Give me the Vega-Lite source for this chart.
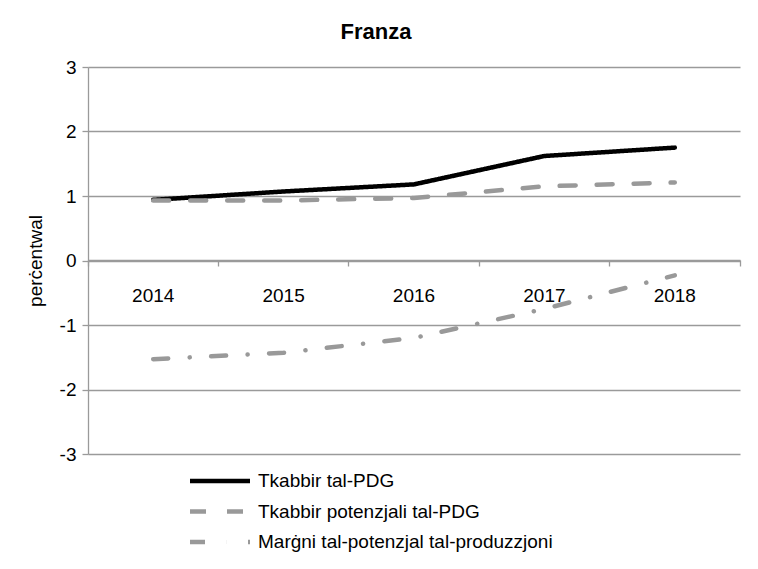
{
  "$schema": "https://vega.github.io/schema/vega-lite/v6.json",
  "width": 652,
  "height": 387,
  "autosize": "none",
  "padding": {"left": 88, "top": 67, "right": 18, "bottom": 115},
  "background": "white",
  "title": {"text": "Franza", "font": "Liberation Sans", "fontSize": 22, "fontWeight": "bold", "color": "#000000", "anchor": "middle", "dx": -38, "offset": 14},
  "config": {"view": {"stroke": null}, "font": "Liberation Sans"},
  "data": {"values": [
    {"year": "2014", "series": "Tkabbir tal-PDG", "value": 0.94},
    {"year": "2015", "series": "Tkabbir tal-PDG", "value": 1.07},
    {"year": "2016", "series": "Tkabbir tal-PDG", "value": 1.18},
    {"year": "2017", "series": "Tkabbir tal-PDG", "value": 1.62},
    {"year": "2018", "series": "Tkabbir tal-PDG", "value": 1.75},
    {"year": "2014", "series": "Tkabbir potenzjali tal-PDG", "value": 0.93},
    {"year": "2015", "series": "Tkabbir potenzjali tal-PDG", "value": 0.93},
    {"year": "2016", "series": "Tkabbir potenzjali tal-PDG", "value": 0.97},
    {"year": "2017", "series": "Tkabbir potenzjali tal-PDG", "value": 1.15},
    {"year": "2018", "series": "Tkabbir potenzjali tal-PDG", "value": 1.21},
    {"year": "2014", "series": "Marġni tal-potenzjal tal-produzzjoni", "value": -1.53},
    {"year": "2015", "series": "Marġni tal-potenzjal tal-produzzjoni", "value": -1.43},
    {"year": "2016", "series": "Marġni tal-potenzjal tal-produzzjoni", "value": -1.2},
    {"year": "2017", "series": "Marġni tal-potenzjal tal-produzzjoni", "value": -0.75},
    {"year": "2018", "series": "Marġni tal-potenzjal tal-produzzjoni", "value": -0.23}
  ]},
  "mark": {"type": "line", "strokeWidth": 4.5, "strokeCap": "round", "strokeJoin": "round"},
  "encoding": {
    "x": {
      "field": "year", "type": "nominal", "bandPosition": 0.5,
      "scale": {"type": "band", "paddingInner": 0, "paddingOuter": 0},
      "axis": {
        "title": null, "offset": -194, "labelAngle": 0,
        "domainColor": "#9a9a9a", "domainWidth": 1.3,
        "tickColor": "#9a9a9a", "tickSize": 6, "tickWidth": 1.3,
        "bandPosition": 1, "tickExtra": true,
        "labelFont": "Liberation Sans", "labelFontSize": 19, "labelColor": "#000000",
        "labelPadding": 20, "grid": false
      }
    },
    "y": {
      "field": "value", "type": "quantitative",
      "scale": {"domain": [-3, 3], "nice": false},
      "axis": {
        "title": "perċentwal", "titleFont": "Liberation Sans", "titleFontSize": 19, "titleFontWeight": "normal", "titleColor": "#000000", "titlePadding": 14,
        "values": [-3, -2, -1, 0, 1, 2, 3],
        "labelExpr": "datum.value + ''",
        "labelFont": "Liberation Sans", "labelFontSize": 19, "labelColor": "#000000", "labelPadding": 6,
        "domainColor": "#9a9a9a", "domainWidth": 1.3,
        "tickColor": "#9a9a9a", "tickSize": 6, "tickWidth": 1.3,
        "grid": true, "gridColor": "#9a9a9a", "gridWidth": 1.3
      }
    },
    "color": {
      "field": "series", "type": "nominal",
      "scale": {"domain": ["Tkabbir tal-PDG", "Tkabbir potenzjali tal-PDG", "Marġni tal-potenzjal tal-produzzjoni"], "range": ["#000000", "#999999", "#999999"]},
      "legend": {
        "title": null, "orient": "none", "legendX": 102, "legendY": 403, "direction": "vertical",
        "symbolType": "stroke", "symbolSize": 400, "symbolStrokeWidth": 4.5,
        "labelFont": "Liberation Sans", "labelFontSize": 19, "labelColor": "#000000", "labelOffset": 3,
        "rowPadding": 8.5, "clipHeight": 22, "labelLimit": 500,
        "encode": {"symbols": {"update": {"size": {"value": 3600}, "xc": {"value": 30}}}}
      }
    },
    "strokeDash": {
      "field": "series", "type": "nominal",
      "scale": {"domain": ["Tkabbir tal-PDG", "Tkabbir potenzjali tal-PDG", "Marġni tal-potenzjal tal-produzzjoni"], "range": [[1, 0], [16, 21], [15, 21.5, 0.1, 21.4]]},
      "legend": null
    }
  }
}
